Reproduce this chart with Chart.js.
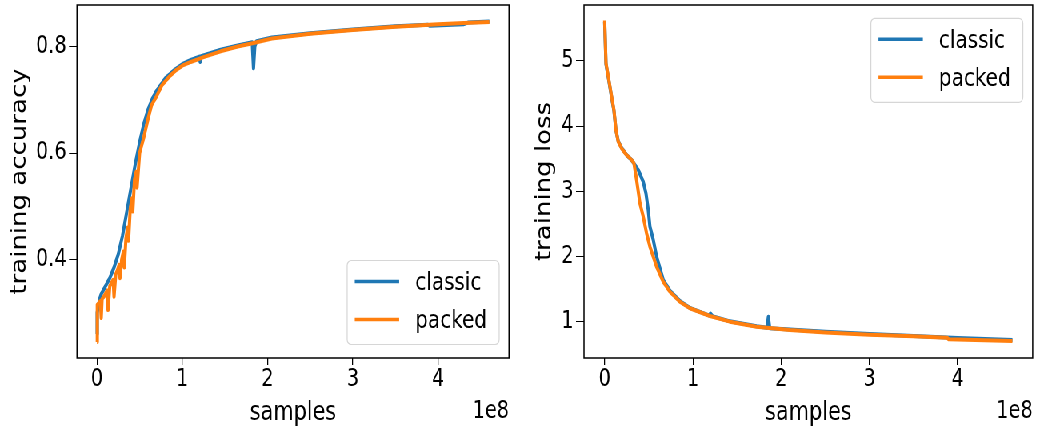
<!DOCTYPE html>
<html>
<head>
<meta charset="utf-8">
<script src="https://cdn.jsdelivr.net/npm/chart.js@4.4.1/dist/chart.umd.min.js"></script>
<style>
    html, body { margin: 0; padding: 0; background: #fff; overflow: hidden; }
    /* the reference figure is squeezed horizontally, so draw wider and scale down */
    #wrap { position: absolute; left: 0; top: 0; width: 1298px; height: 429px; transform: scaleX(0.8); transform-origin: 0 0; }
    #wrap canvas { position: absolute; top: 0; }
</style>
</head>
<body>
<div id="wrap">
    <canvas id="accChart" width="650" height="429" style="left:0;width:650px;height:429px"></canvas>
    <canvas id="lossChart" width="648" height="429" style="left:650px;width:648px;height:429px"></canvas>
</div>
<script>
// samples are in units of 1e8
const xTicks = [0, 1, 2, 3, 4];
const accTicks = [0.4, 0.6, 0.8];
const lossTicks = [1, 2, 3, 4, 5];
const seriesNames = ['classic', 'packed'];

const accClassicX = [0, 0.003, 0.03, 0.05, 0.1, 0.15, 0.2, 0.25, 0.3, 0.35, 0.4, 0.45, 0.5, 0.55, 0.6, 0.65, 0.7, 0.8, 0.9, 1.0, 1.1, 1.2, 1.21, 1.22, 1.45, 1.65, 1.82, 1.835, 1.85, 1.87, 2.05, 2.5, 3.0, 3.5, 3.88, 3.9, 4.3, 4.35, 4.6];
const accClassicY = [0.26, 0.30, 0.325, 0.335, 0.35, 0.365, 0.385, 0.41, 0.445, 0.49, 0.535, 0.58, 0.62, 0.655, 0.682, 0.702, 0.717, 0.74, 0.755, 0.767, 0.775, 0.781, 0.771, 0.782, 0.794, 0.802, 0.808, 0.759, 0.80, 0.81, 0.817, 0.825, 0.832, 0.838, 0.841, 0.839, 0.842, 0.845, 0.847];

const accPackedX = [0, 0.004, 0.02, 0.04, 0.05, 0.06, 0.08, 0.1, 0.12, 0.13, 0.15, 0.17, 0.19, 0.2, 0.22, 0.24, 0.26, 0.27, 0.29, 0.31, 0.32, 0.34, 0.36, 0.37, 0.39, 0.41, 0.42, 0.44, 0.46, 0.47, 0.5, 0.52, 0.55, 0.6, 0.64, 0.7, 0.76, 0.85, 0.93, 1.0, 1.1, 1.25, 1.45, 1.65, 1.85, 2.05, 2.5, 3.0, 3.5, 4.0, 4.3, 4.6];
const accPackedY = [0.245, 0.315, 0.318, 0.322, 0.29, 0.326, 0.33, 0.336, 0.342, 0.305, 0.35, 0.356, 0.362, 0.33, 0.372, 0.38, 0.39, 0.365, 0.40, 0.415, 0.385, 0.44, 0.46, 0.435, 0.495, 0.515, 0.49, 0.55, 0.565, 0.535, 0.60, 0.612, 0.63, 0.665, 0.69, 0.707, 0.727, 0.744, 0.756, 0.764, 0.771, 0.78, 0.791, 0.8, 0.807, 0.815, 0.824, 0.831, 0.837, 0.842, 0.844, 0.846];

const lossClassicX = [0, 0.015, 0.041, 0.079, 0.105, 0.128, 0.154, 0.192, 0.249, 0.306, 0.332, 0.381, 0.437, 0.468, 0.494, 0.513, 0.551, 0.589, 0.664, 0.74, 0.853, 0.966, 1.18, 1.2, 1.22, 1.419, 1.721, 1.84, 1.855, 1.87, 2.099, 2.5, 3.0, 3.5, 4.0, 4.62];
const lossClassicY = [5.6, 4.95, 4.75, 4.44, 4.24, 3.94, 3.77, 3.67, 3.56, 3.48, 3.43, 3.33, 3.15, 2.972, 2.716, 2.46, 2.257, 2.0, 1.644, 1.48, 1.32, 1.215, 1.1, 1.13, 1.09, 1.01, 0.935, 0.91, 1.08, 0.905, 0.885, 0.85, 0.815, 0.785, 0.755, 0.725];

const lossPackedX = [0, 0.015, 0.041, 0.079, 0.105, 0.128, 0.154, 0.192, 0.249, 0.306, 0.332, 0.362, 0.4, 0.437, 0.475, 0.513, 0.589, 0.664, 0.74, 0.853, 0.966, 1.193, 1.419, 1.721, 2.099, 2.5, 3.0, 3.5, 3.88, 3.9, 4.2, 4.62];
const lossPackedY = [5.62, 4.965, 4.76, 4.453, 4.249, 3.943, 3.763, 3.662, 3.559, 3.483, 3.432, 3.176, 2.819, 2.614, 2.359, 2.154, 1.847, 1.618, 1.464, 1.311, 1.21, 1.092, 1.005, 0.928, 0.877, 0.84, 0.805, 0.78, 0.76, 0.735, 0.725, 0.71];

const colors = ['#1f77b4', '#ff7f0e'];
const FONT = '"DejaVu Sans", sans-serif';

function toPoints(xs, ys) {
    return xs.map((x, i) => ({ x: x, y: ys[i] }));
}

// box around the axes, the "1e8" offset text and a matplotlib-like legend
const framePlugin = {
    id: 'frame',
    afterDraw(chart, args, opts) {
        const ctx = chart.ctx;
        const a = chart.chartArea;
        ctx.save();
        ctx.strokeStyle = '#000';
        ctx.lineWidth = 1.5;
        ctx.strokeRect(a.left, a.top, a.right - a.left, a.bottom - a.top);

        ctx.fillStyle = '#000';
        ctx.font = '24px ' + FONT;
        ctx.textAlign = 'right';
        ctx.textBaseline = 'alphabetic';
        ctx.fillText('1e8', a.right, 418);

        // legend
        const w = 190, h = 84;
        const left = a.right - 12.3 - w;
        const top = opts.corner === 'lower' ? a.bottom - 13.5 - h : a.top + 13.3;
        ctx.beginPath();
        ctx.roundRect(left, top, w, h, 5);
        ctx.fillStyle = 'rgba(255,255,255,0.8)';
        ctx.fill();
        ctx.strokeStyle = '#d6d6d6';
        ctx.lineWidth = 1.2;
        ctx.stroke();
        const rows = [top + 21, top + 59];
        ctx.font = '25px ' + FONT;
        ctx.textAlign = 'left';
        ctx.textBaseline = 'middle';
        seriesNames.forEach((name, i) => {
            ctx.beginPath();
            ctx.moveTo(left + 9.5, rows[i]);
            ctx.lineTo(left + 65, rows[i]);
            ctx.strokeStyle = colors[i];
            ctx.lineWidth = 3.4;
            ctx.stroke();
            ctx.fillStyle = '#000';
            ctx.fillText(name, left + 85, rows[i] + 2);
        });
        ctx.restore();
    }
};

// drop the extra room Chart.js keeps for the outer tick labels
function noLabelPadding(s) {
    s.paddingTop = 0;
    s.paddingBottom = 0;
    s.paddingLeft = 0;
    s.paddingRight = 0;
}

function createCurveChart(canvasId, cfg) {
    const canvas = document.getElementById(canvasId);
    const ctx = canvas.getContext('2d');

    return new Chart(ctx, {
        type: 'line',
        data: {
            datasets: [{
                label: seriesNames[0],
                data: toPoints(cfg.classicX, cfg.classicY),
                borderColor: colors[0],
                order: 1
            }, {
                label: seriesNames[1],
                data: toPoints(cfg.packedX, cfg.packedY),
                borderColor: colors[1],
                order: 0
            }]
        },
        options: {
            responsive: false,
            animation: false,
            devicePixelRatio: 1,
            layout: { padding: { left: 0, right: cfg.padRight, top: 5, bottom: 0 } },
            elements: {
                point: { radius: 0 },
                line: { borderWidth: 4, tension: 0, borderJoinStyle: 'round', borderCapStyle: 'butt' }
            },
            plugins: {
                legend: { display: false },
                tooltip: { enabled: false },
                frame: { corner: cfg.legendCorner }
            },
            scales: {
                x: {
                    type: 'linear',
                    min: cfg.xMin,
                    max: cfg.xMax,
                    afterBuildTicks: s => { s.ticks = xTicks.map(v => ({ value: v })); },
                    afterFit: s => { s.height = 71; noLabelPadding(s); },
                    border: { display: false },
                    grid: { drawOnChartArea: false, drawTicks: true, tickLength: 7, color: '#000', lineWidth: 1.25 },
                    ticks: {
                        color: '#000', font: { family: FONT, size: 24 }, padding: 0,
                        maxRotation: 0, autoSkip: false,
                        callback: v => String(v)
                    },
                    title: { display: true, text: 'samples', color: '#000', font: { family: FONT, size: 26 }, padding: { top: 0, bottom: 0 } }
                },
                y: {
                    type: 'linear',
                    min: cfg.yMin,
                    max: cfg.yMax,
                    afterBuildTicks: s => { s.ticks = cfg.yTicks.map(v => ({ value: v })); },
                    afterFit: s => { s.width = cfg.yWidth; noLabelPadding(s); },
                    border: { display: false },
                    grid: { drawOnChartArea: false, drawTicks: true, tickLength: 10, color: '#000', lineWidth: 1 },
                    ticks: {
                        color: '#000', font: { family: FONT, size: 24 }, padding: 3,
                        autoSkip: false,
                        callback: cfg.yFormat
                    },
                    title: { display: true, text: cfg.yTitle, color: '#000', font: { family: FONT, size: 26 }, padding: { top: cfg.yTitlePad, bottom: 0 } }
                }
            }
        },
        plugins: [framePlugin]
    });
}

createCurveChart('accChart', {
    classicX: accClassicX, classicY: accClassicY,
    packedX: accPackedX, packedY: accPackedY,
    xMin: -0.234, xMax: 4.83,
    yMin: 0.215, yMax: 0.878,
    yTicks: accTicks,
    yFormat: v => v.toFixed(1),
    yTitle: 'training accuracy',
    yTitlePad: 10,
    yWidth: 96.25,
    padRight: 13.75,
    legendCorner: 'lower'
});

createCurveChart('lossChart', {
    classicX: lossClassicX, classicY: lossClassicY,
    packedX: lossPackedX, packedY: lossPackedY,
    xMin: -0.234, xMax: 4.85,
    yMin: 0.448, yMax: 5.858,
    yTicks: lossTicks,
    yFormat: v => String(v),
    yTitle: 'training loss',
    yTitlePad: 16,
    yWidth: 80,
    padRight: 7.1,
    legendCorner: 'upper'
});
</script>
</body>
</html>
